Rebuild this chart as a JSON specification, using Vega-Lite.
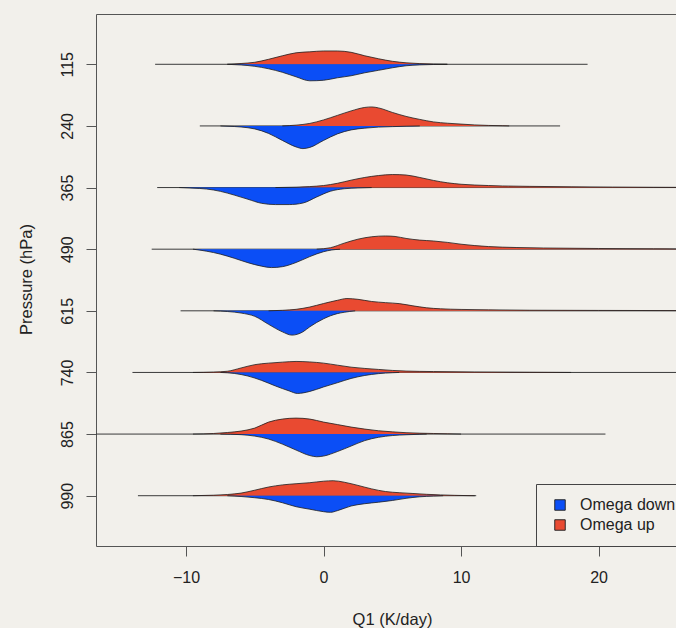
{
  "$schema": "https://vega.github.io/schema/vega-lite/v6.json",
  "autosize": {"type": "none"},
  "width": 580,
  "height": 532,
  "padding": {"left": 96, "top": 14, "right": 0, "bottom": 82},
  "background": "#F2F0EB",
  "config": {
    "view": {"stroke": null},
    "font": "Liberation Sans",
    "axis": {"grid": false, "domainColor": "#555555", "tickColor": "#555555", "labelColor": "#222222", "titleColor": "#222222", "labelFont": "Liberation Sans", "titleFont": "Liberation Sans", "titleFontWeight": "normal"}
  },
  "datasets": {
    "ranges": [
      {"level": 115, "lo": -12.25, "hi": 19.2},
      {"level": 240, "lo": -9.0, "hi": 17.2},
      {"level": 365, "lo": -12.1, "hi": 27},
      {"level": 490, "lo": -12.5, "hi": 27},
      {"level": 615, "lo": -10.4, "hi": 27},
      {"level": 740, "lo": -13.9, "hi": 27},
      {"level": 865, "lo": -17, "hi": 20.5},
      {"level": 990, "lo": -13.5, "hi": 11.1}
    ],
    "beans": [
      {"level":115,"side":"Omega up","q1":-7,"edge":115},
      {"level":115,"side":"Omega up","q1":-6,"edge":113.4},
      {"level":115,"side":"Omega up","q1":-5,"edge":110.9},
      {"level":115,"side":"Omega up","q1":-4,"edge":104.9},
      {"level":115,"side":"Omega up","q1":-3,"edge":97.8},
      {"level":115,"side":"Omega up","q1":-2,"edge":91.7},
      {"level":115,"side":"Omega up","q1":-1,"edge":89.7},
      {"level":115,"side":"Omega up","q1":0,"edge":88.0},
      {"level":115,"side":"Omega up","q1":1,"edge":88.0},
      {"level":115,"side":"Omega up","q1":2,"edge":90.7},
      {"level":115,"side":"Omega up","q1":3,"edge":97.8},
      {"level":115,"side":"Omega up","q1":4,"edge":103.8},
      {"level":115,"side":"Omega up","q1":5,"edge":108.9},
      {"level":115,"side":"Omega up","q1":6,"edge":112.0},
      {"level":115,"side":"Omega up","q1":7,"edge":113.6},
      {"level":115,"side":"Omega up","q1":8,"edge":114.4},
      {"level":115,"side":"Omega up","q1":9,"edge":115},
      {"level":115,"side":"Omega down","q1":-7,"edge":115},
      {"level":115,"side":"Omega down","q1":-6,"edge":116.4},
      {"level":115,"side":"Omega down","q1":-5,"edge":119.1},
      {"level":115,"side":"Omega down","q1":-4,"edge":124.1},
      {"level":115,"side":"Omega down","q1":-3,"edge":131.2},
      {"level":115,"side":"Omega down","q1":-2,"edge":140.4},
      {"level":115,"side":"Omega down","q1":-1,"edge":148.5},
      {"level":115,"side":"Omega down","q1":0,"edge":147.4},
      {"level":115,"side":"Omega down","q1":1,"edge":142.4},
      {"level":115,"side":"Omega down","q1":2,"edge":138.3},
      {"level":115,"side":"Omega down","q1":3,"edge":132.2},
      {"level":115,"side":"Omega down","q1":4,"edge":127.2},
      {"level":115,"side":"Omega down","q1":5,"edge":122.1},
      {"level":115,"side":"Omega down","q1":6,"edge":118.0},
      {"level":115,"side":"Omega down","q1":7,"edge":116.2},
      {"level":115,"side":"Omega down","q1":8,"edge":115.4},
      {"level":115,"side":"Omega down","q1":9,"edge":115},

      {"level":240,"side":"Omega up","q1":-3,"edge":240},
      {"level":240,"side":"Omega up","q1":-2,"edge":238.4},
      {"level":240,"side":"Omega up","q1":-1,"edge":234.9},
      {"level":240,"side":"Omega up","q1":0,"edge":227.8},
      {"level":240,"side":"Omega up","q1":1,"edge":218.7},
      {"level":240,"side":"Omega up","q1":2,"edge":209.6},
      {"level":240,"side":"Omega up","q1":3,"edge":202.5},
      {"level":240,"side":"Omega up","q1":3.5,"edge":201.5},
      {"level":240,"side":"Omega up","q1":4,"edge":203.5},
      {"level":240,"side":"Omega up","q1":5,"edge":212.6},
      {"level":240,"side":"Omega up","q1":6,"edge":220.7},
      {"level":240,"side":"Omega up","q1":7,"edge":226.8},
      {"level":240,"side":"Omega up","q1":8,"edge":231.9},
      {"level":240,"side":"Omega up","q1":9,"edge":234.5},
      {"level":240,"side":"Omega up","q1":10,"edge":236.3},
      {"level":240,"side":"Omega up","q1":11,"edge":238.0},
      {"level":240,"side":"Omega up","q1":12,"edge":239.0},
      {"level":240,"side":"Omega up","q1":13,"edge":239.6},
      {"level":240,"side":"Omega up","q1":13.5,"edge":240},
      {"level":240,"side":"Omega down","q1":-7.5,"edge":240},
      {"level":240,"side":"Omega down","q1":-6.5,"edge":241.2},
      {"level":240,"side":"Omega down","q1":-5.5,"edge":243.7},
      {"level":240,"side":"Omega down","q1":-5,"edge":246.1},
      {"level":240,"side":"Omega down","q1":-4,"edge":255.2},
      {"level":240,"side":"Omega down","q1":-3,"edge":269.4},
      {"level":240,"side":"Omega down","q1":-2,"edge":282.6},
      {"level":240,"side":"Omega down","q1":-1.5,"edge":286.0},
      {"level":240,"side":"Omega down","q1":-1,"edge":283.6},
      {"level":240,"side":"Omega down","q1":0,"edge":269.4},
      {"level":240,"side":"Omega down","q1":1,"edge":256.2},
      {"level":240,"side":"Omega down","q1":2,"edge":248.1},
      {"level":240,"side":"Omega down","q1":3,"edge":244.5},
      {"level":240,"side":"Omega down","q1":4,"edge":242.4},
      {"level":240,"side":"Omega down","q1":5,"edge":241.4},
      {"level":240,"side":"Omega down","q1":6,"edge":240.6},
      {"level":240,"side":"Omega down","q1":7,"edge":240},

      {"level":365,"side":"Omega up","q1":-3.5,"edge":365},
      {"level":365,"side":"Omega up","q1":-2,"edge":364.2},
      {"level":365,"side":"Omega up","q1":-1,"edge":363.0},
      {"level":365,"side":"Omega up","q1":0,"edge":360.9},
      {"level":365,"side":"Omega up","q1":1,"edge":356.4},
      {"level":365,"side":"Omega up","q1":2,"edge":350.0},
      {"level":365,"side":"Omega up","q1":3,"edge":344.5},
      {"level":365,"side":"Omega up","q1":4,"edge":340.6},
      {"level":365,"side":"Omega up","q1":5,"edge":338.6},
      {"level":365,"side":"Omega up","q1":6,"edge":339.6},
      {"level":365,"side":"Omega up","q1":7,"edge":344.6},
      {"level":365,"side":"Omega up","q1":8,"edge":350.6},
      {"level":365,"side":"Omega up","q1":9,"edge":355.3},
      {"level":365,"side":"Omega up","q1":10,"edge":358.3},
      {"level":365,"side":"Omega up","q1":11,"edge":359.9},
      {"level":365,"side":"Omega up","q1":12,"edge":360.9},
      {"level":365,"side":"Omega up","q1":13,"edge":361.8},
      {"level":365,"side":"Omega up","q1":15,"edge":362.6},
      {"level":365,"side":"Omega up","q1":18,"edge":363.4},
      {"level":365,"side":"Omega up","q1":21,"edge":364.0},
      {"level":365,"side":"Omega up","q1":24,"edge":364.4},
      {"level":365,"side":"Omega up","q1":27,"edge":364.7},
      {"level":365,"side":"Omega down","q1":-10.5,"edge":365},
      {"level":365,"side":"Omega down","q1":-9.5,"edge":366.2},
      {"level":365,"side":"Omega down","q1":-8.5,"edge":368.0},
      {"level":365,"side":"Omega down","q1":-7.5,"edge":372.7},
      {"level":365,"side":"Omega down","q1":-6.5,"edge":380.2},
      {"level":365,"side":"Omega down","q1":-5.5,"edge":388.7},
      {"level":365,"side":"Omega down","q1":-4.5,"edge":397.0},
      {"level":365,"side":"Omega down","q1":-3.5,"edge":399.5},
      {"level":365,"side":"Omega down","q1":-2.5,"edge":399.5},
      {"level":365,"side":"Omega down","q1":-1.5,"edge":396.4},
      {"level":365,"side":"Omega down","q1":-0.5,"edge":384.1},
      {"level":365,"side":"Omega down","q1":0.5,"edge":372.5},
      {"level":365,"side":"Omega down","q1":1.5,"edge":367.4},
      {"level":365,"side":"Omega down","q1":2.5,"edge":365.8},
      {"level":365,"side":"Omega down","q1":3.5,"edge":365},

      {"level":490,"side":"Omega up","q1":-0.5,"edge":490},
      {"level":490,"side":"Omega up","q1":0.5,"edge":487.0},
      {"level":490,"side":"Omega up","q1":1.5,"edge":477.8},
      {"level":490,"side":"Omega up","q1":2.5,"edge":469.7},
      {"level":490,"side":"Omega up","q1":3.5,"edge":464.8},
      {"level":490,"side":"Omega up","q1":4.5,"edge":463.2},
      {"level":490,"side":"Omega up","q1":5.2,"edge":464.2},
      {"level":490,"side":"Omega up","q1":6,"edge":468.2},
      {"level":490,"side":"Omega up","q1":7,"edge":471.6},
      {"level":490,"side":"Omega up","q1":8,"edge":473.4},
      {"level":490,"side":"Omega up","q1":9,"edge":476.2},
      {"level":490,"side":"Omega up","q1":10,"edge":479.9},
      {"level":490,"side":"Omega up","q1":11,"edge":482.7},
      {"level":490,"side":"Omega up","q1":12,"edge":484.7},
      {"level":490,"side":"Omega up","q1":14,"edge":486.6},
      {"level":490,"side":"Omega up","q1":16,"edge":487.6},
      {"level":490,"side":"Omega up","q1":20,"edge":488.6},
      {"level":490,"side":"Omega up","q1":24,"edge":489.2},
      {"level":490,"side":"Omega up","q1":27,"edge":489.6},
      {"level":490,"side":"Omega down","q1":-9.5,"edge":490},
      {"level":490,"side":"Omega down","q1":-8.5,"edge":494.1},
      {"level":490,"side":"Omega down","q1":-7.5,"edge":500.1},
      {"level":490,"side":"Omega down","q1":-6.5,"edge":508.3},
      {"level":490,"side":"Omega down","q1":-5.5,"edge":517.4},
      {"level":490,"side":"Omega down","q1":-4.5,"edge":524.5},
      {"level":490,"side":"Omega down","q1":-3.8,"edge":527.3},
      {"level":490,"side":"Omega down","q1":-3,"edge":525.5},
      {"level":490,"side":"Omega down","q1":-2,"edge":517.0},
      {"level":490,"side":"Omega down","q1":-1,"edge":505.0},
      {"level":490,"side":"Omega down","q1":0,"edge":495.1},
      {"level":490,"side":"Omega down","q1":0.6,"edge":491.6},
      {"level":490,"side":"Omega down","q1":1.2,"edge":490},

      {"level":615,"side":"Omega up","q1":-4,"edge":615},
      {"level":615,"side":"Omega up","q1":-3,"edge":614.0},
      {"level":615,"side":"Omega up","q1":-2,"edge":612.0},
      {"level":615,"side":"Omega up","q1":-1,"edge":607.3},
      {"level":615,"side":"Omega up","q1":0,"edge":600.2},
      {"level":615,"side":"Omega up","q1":1,"edge":593.7},
      {"level":615,"side":"Omega up","q1":1.7,"edge":590.1},
      {"level":615,"side":"Omega up","q1":2.5,"edge":591.7},
      {"level":615,"side":"Omega up","q1":3.5,"edge":596.1},
      {"level":615,"side":"Omega up","q1":4.5,"edge":598.4},
      {"level":615,"side":"Omega up","q1":5.5,"edge":600.4},
      {"level":615,"side":"Omega up","q1":6.5,"edge":604.9},
      {"level":615,"side":"Omega up","q1":7.5,"edge":608.9},
      {"level":615,"side":"Omega up","q1":8.5,"edge":610.9},
      {"level":615,"side":"Omega up","q1":10,"edge":612.2},
      {"level":615,"side":"Omega up","q1":12,"edge":613.0},
      {"level":615,"side":"Omega up","q1":15,"edge":613.8},
      {"level":615,"side":"Omega up","q1":20,"edge":614.2},
      {"level":615,"side":"Omega up","q1":27,"edge":614.6},
      {"level":615,"side":"Omega down","q1":-8,"edge":615},
      {"level":615,"side":"Omega down","q1":-7,"edge":616.4},
      {"level":615,"side":"Omega down","q1":-6,"edge":619.5},
      {"level":615,"side":"Omega down","q1":-5,"edge":626.2},
      {"level":615,"side":"Omega down","q1":-4,"edge":642.4},
      {"level":615,"side":"Omega down","q1":-3,"edge":657.6},
      {"level":615,"side":"Omega down","q1":-2.3,"edge":664.3},
      {"level":615,"side":"Omega down","q1":-1.5,"edge":657.6},
      {"level":615,"side":"Omega down","q1":-1,"edge":647.4},
      {"level":615,"side":"Omega down","q1":0,"edge":631.2},
      {"level":615,"side":"Omega down","q1":0.5,"edge":625.1},
      {"level":615,"side":"Omega down","q1":1,"edge":620.7},
      {"level":615,"side":"Omega down","q1":1.5,"edge":618.0},
      {"level":615,"side":"Omega down","q1":2.3,"edge":615},

      {"level":740,"side":"Omega up","q1":-9.5,"edge":740},
      {"level":740,"side":"Omega up","q1":-8,"edge":739.2},
      {"level":740,"side":"Omega up","q1":-7,"edge":737.6},
      {"level":740,"side":"Omega up","q1":-6,"edge":730.9},
      {"level":740,"side":"Omega up","q1":-5,"edge":724.2},
      {"level":740,"side":"Omega up","q1":-4,"edge":721.1},
      {"level":740,"side":"Omega up","q1":-3,"edge":719.1},
      {"level":740,"side":"Omega up","q1":-2,"edge":717.7},
      {"level":740,"side":"Omega up","q1":-1,"edge":718.7},
      {"level":740,"side":"Omega up","q1":0,"edge":721.1},
      {"level":740,"side":"Omega up","q1":1,"edge":725.2},
      {"level":740,"side":"Omega up","q1":2,"edge":729.3},
      {"level":740,"side":"Omega up","q1":3,"edge":731.9},
      {"level":740,"side":"Omega up","q1":4,"edge":733.9},
      {"level":740,"side":"Omega up","q1":5,"edge":735.9},
      {"level":740,"side":"Omega up","q1":6,"edge":737.2},
      {"level":740,"side":"Omega up","q1":8,"edge":738.2},
      {"level":740,"side":"Omega up","q1":11,"edge":739.0},
      {"level":740,"side":"Omega up","q1":15,"edge":739.6},
      {"level":740,"side":"Omega up","q1":18,"edge":740},
      {"level":740,"side":"Omega down","q1":-7.5,"edge":740},
      {"level":740,"side":"Omega down","q1":-6.5,"edge":742.0},
      {"level":740,"side":"Omega down","q1":-5.5,"edge":747.3},
      {"level":740,"side":"Omega down","q1":-4.5,"edge":756.2},
      {"level":740,"side":"Omega down","q1":-3.5,"edge":767.4},
      {"level":740,"side":"Omega down","q1":-2.5,"edge":777.5},
      {"level":740,"side":"Omega down","q1":-1.9,"edge":782.6},
      {"level":740,"side":"Omega down","q1":-1,"edge":778.5},
      {"level":740,"side":"Omega down","q1":0,"edge":769.4},
      {"level":740,"side":"Omega down","q1":1,"edge":760.9},
      {"level":740,"side":"Omega down","q1":2,"edge":752.2},
      {"level":740,"side":"Omega down","q1":3,"edge":746.1},
      {"level":740,"side":"Omega down","q1":4,"edge":742.4},
      {"level":740,"side":"Omega down","q1":5,"edge":740.6},
      {"level":740,"side":"Omega down","q1":5.5,"edge":740},

      {"level":865,"side":"Omega up","q1":-9.5,"edge":865},
      {"level":865,"side":"Omega up","q1":-8,"edge":863.8},
      {"level":865,"side":"Omega up","q1":-7,"edge":861.8},
      {"level":865,"side":"Omega up","q1":-6,"edge":858.9},
      {"level":865,"side":"Omega up","q1":-5,"edge":852.8},
      {"level":865,"side":"Omega up","q1":-4,"edge":840.7},
      {"level":865,"side":"Omega up","q1":-3,"edge":834.6},
      {"level":865,"side":"Omega up","q1":-2,"edge":832.6},
      {"level":865,"side":"Omega up","q1":-1,"edge":834.6},
      {"level":865,"side":"Omega up","q1":0,"edge":840.7},
      {"level":865,"side":"Omega up","q1":1,"edge":845.7},
      {"level":865,"side":"Omega up","q1":2,"edge":850.8},
      {"level":865,"side":"Omega up","q1":3,"edge":854.9},
      {"level":865,"side":"Omega up","q1":4,"edge":858.3},
      {"level":865,"side":"Omega up","q1":5,"edge":860.5},
      {"level":865,"side":"Omega up","q1":6,"edge":862.2},
      {"level":865,"side":"Omega up","q1":7,"edge":863.2},
      {"level":865,"side":"Omega up","q1":8,"edge":863.8},
      {"level":865,"side":"Omega up","q1":9,"edge":864.4},
      {"level":865,"side":"Omega up","q1":10,"edge":865},
      {"level":865,"side":"Omega down","q1":-7.5,"edge":865},
      {"level":865,"side":"Omega down","q1":-6,"edge":866.2},
      {"level":865,"side":"Omega down","q1":-5,"edge":869.1},
      {"level":865,"side":"Omega down","q1":-4,"edge":875.1},
      {"level":865,"side":"Omega down","q1":-3,"edge":885.3},
      {"level":865,"side":"Omega down","q1":-2,"edge":897.4},
      {"level":865,"side":"Omega down","q1":-1,"edge":908.6},
      {"level":865,"side":"Omega down","q1":-0.5,"edge":911.0},
      {"level":865,"side":"Omega down","q1":0,"edge":909.6},
      {"level":865,"side":"Omega down","q1":1,"edge":900.5},
      {"level":865,"side":"Omega down","q1":2,"edge":889.3},
      {"level":865,"side":"Omega down","q1":3,"edge":878.2},
      {"level":865,"side":"Omega down","q1":4,"edge":871.5},
      {"level":865,"side":"Omega down","q1":5,"edge":868.0},
      {"level":865,"side":"Omega down","q1":6,"edge":866.4},
      {"level":865,"side":"Omega down","q1":7,"edge":865.4},
      {"level":865,"side":"Omega down","q1":7.5,"edge":865},

      {"level":990,"side":"Omega up","q1":-9.5,"edge":990},
      {"level":990,"side":"Omega up","q1":-8,"edge":989.0},
      {"level":990,"side":"Omega up","q1":-7,"edge":987.6},
      {"level":990,"side":"Omega up","q1":-6,"edge":984.7},
      {"level":990,"side":"Omega up","q1":-5,"edge":978.8},
      {"level":990,"side":"Omega up","q1":-4,"edge":972.4},
      {"level":990,"side":"Omega up","q1":-3,"edge":968.1},
      {"level":990,"side":"Omega up","q1":-2,"edge":965.7},
      {"level":990,"side":"Omega up","q1":-1,"edge":963.6},
      {"level":990,"side":"Omega up","q1":0,"edge":960.6},
      {"level":990,"side":"Omega up","q1":0.7,"edge":959.6},
      {"level":990,"side":"Omega up","q1":1.5,"edge":962.6},
      {"level":990,"side":"Omega up","q1":2.5,"edge":969.1},
      {"level":990,"side":"Omega up","q1":3.5,"edge":976.2},
      {"level":990,"side":"Omega up","q1":4.5,"edge":981.5},
      {"level":990,"side":"Omega up","q1":5.5,"edge":983.9},
      {"level":990,"side":"Omega up","q1":6.5,"edge":985.5},
      {"level":990,"side":"Omega up","q1":7.5,"edge":987.2},
      {"level":990,"side":"Omega up","q1":8.5,"edge":988.4},
      {"level":990,"side":"Omega up","q1":9.5,"edge":989.2},
      {"level":990,"side":"Omega up","q1":10.5,"edge":989.8},
      {"level":990,"side":"Omega up","q1":11,"edge":990},
      {"level":990,"side":"Omega down","q1":-7,"edge":990},
      {"level":990,"side":"Omega down","q1":-6,"edge":991.6},
      {"level":990,"side":"Omega down","q1":-5,"edge":994.1},
      {"level":990,"side":"Omega down","q1":-4,"edge":997.7},
      {"level":990,"side":"Omega down","q1":-3,"edge":1004.2},
      {"level":990,"side":"Omega down","q1":-2,"edge":1012.3},
      {"level":990,"side":"Omega down","q1":-1,"edge":1017.4},
      {"level":990,"side":"Omega down","q1":0,"edge":1022.4},
      {"level":990,"side":"Omega down","q1":0.5,"edge":1023.7},
      {"level":990,"side":"Omega down","q1":1,"edge":1020.4},
      {"level":990,"side":"Omega down","q1":2,"edge":1010.9},
      {"level":990,"side":"Omega down","q1":3,"edge":1006.2},
      {"level":990,"side":"Omega down","q1":4,"edge":1003.2},
      {"level":990,"side":"Omega down","q1":5,"edge":999.7},
      {"level":990,"side":"Omega down","q1":6,"edge":995.3},
      {"level":990,"side":"Omega down","q1":7,"edge":992.2},
      {"level":990,"side":"Omega down","q1":8,"edge":990.8},
      {"level":990,"side":"Omega down","q1":8.7,"edge":990}
    ]
  },
  "resolve": {"axis": {"x": "independent", "y": "independent"}},
  "layer": [
    {
      "data": {"name": "ranges"},
      "mark": {"type": "rule", "color": "#3a3a3a", "strokeWidth": 1, "clip": true},
      "encoding": {
        "x": {"field": "lo", "type": "quantitative",
          "scale": {"domain": [-16.55, 25.63], "nice": false, "zero": false},
          "axis": {"orient": "bottom", "values": [-10, 0, 10, 20], "tickSize": 10, "labelPadding": 13, "labelFontSize": 16, "title": "Q1 (K/day)", "titleFontSize": 16.5, "titleX": 296, "titleY": 78, "titleBaseline": "alphabetic", "titleAlign": "center", "labelFlush": false, "domainWidth": 1}},
        "x2": {"field": "hi"},
        "y": {"field": "level", "type": "quantitative",
          "scale": {"domain": [13, 1092], "reverse": true, "nice": false, "zero": false},
          "axis": {"orient": "left", "values": [115, 240, 365, 490, 615, 740, 865, 990], "tickSize": 10, "labelPadding": 14, "labelFontSize": 16, "labelAngle": 270, "labelAlign": "center", "labelBaseline": "alphabetic", "labelFlush": false, "title": "Pressure (hPa)", "titleFontSize": 16.5, "titleAngle": 270, "titleX": -65, "titleY": 265, "titleAlign": "center", "titleBaseline": "alphabetic", "domainWidth": 1}}
      }
    },
    {
      "data": {"name": "beans"},
      "mark": {"type": "area", "interpolate": "monotone", "clip": true, "opacity": 1},
      "encoding": {
        "x": {"field": "q1", "type": "quantitative", "axis": null},
        "y": {"field": "edge", "type": "quantitative", "axis": null},
        "y2": {"field": "level"},
        "detail": {"field": "level"},
        "color": {"field": "side", "type": "nominal",
          "scale": {"domain": ["Omega down", "Omega up"], "range": ["#0B4EF6", "#E94A31"]},
          "legend": {"title": null, "orient": "none", "legendX": 440, "legendY": 470, "direction": "vertical",
            "symbolType": "square", "symbolSize": 110, "symbolStrokeColor": "#2a2a2a", "symbolStrokeWidth": 1, "symbolOpacity": 1,
            "symbolOffset": 3, "labelOffset": 12, "labelFontSize": 16, "labelColor": "#222222", "labelFont": "Liberation Sans",
            "rowPadding": 4, "padding": 13, "strokeColor": "#444444", "fillColor": "#F2F0EB", "labelLimit": 300}}
      }
    },
    {
      "data": {"name": "beans"},
      "mark": {"type": "line", "interpolate": "monotone", "clip": true, "color": "#1e1e1e", "strokeWidth": 0.8},
      "encoding": {
        "x": {"field": "q1", "type": "quantitative",
          "axis": {"orient": "top", "labels": false, "ticks": false, "title": null, "domainWidth": 1}},
        "y": {"field": "edge", "type": "quantitative", "axis": null},
        "detail": [{"field": "level"}, {"field": "side"}]
      }
    }
  ]
}
